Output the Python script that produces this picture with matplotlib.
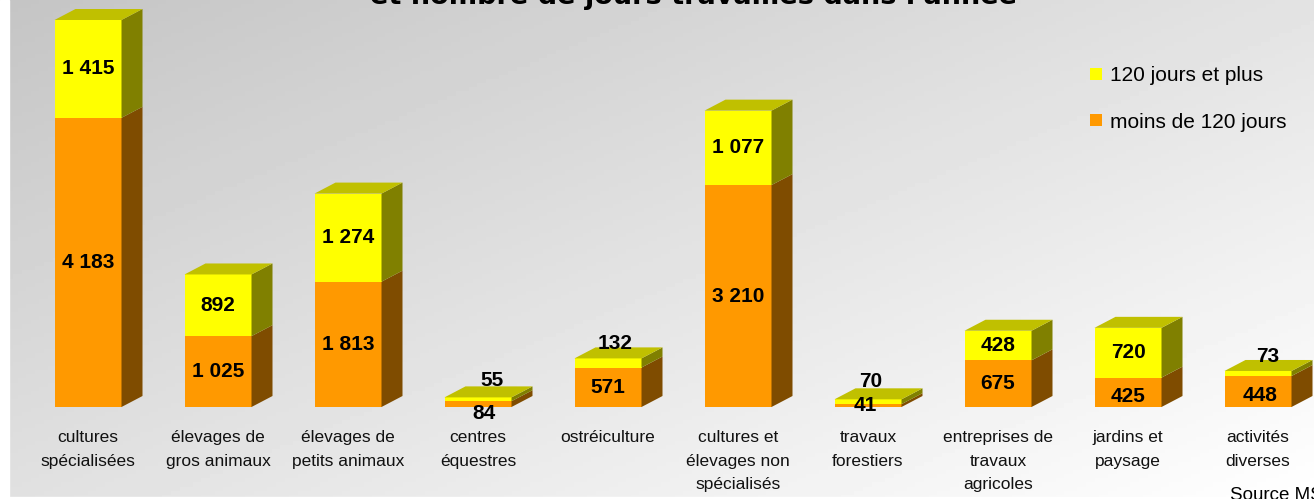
import numpy as np
import matplotlib
matplotlib.use("Agg")
import matplotlib.pyplot as plt
from matplotlib.patches import Polygon, Patch

plt.rcParams['font.family'] = ['Liberation Sans', 'DejaVu Sans']

# data
categories = ["cultures\nspécialisées", "élevages de\ngros animaux", "élevages de\npetits animaux",
              "centres\néquestres", "ostréiculture", "cultures et\nélevages non\nspécialisés",
              "travaux\nforestiers", "entreprises de\ntravaux\nagricoles", "jardins et\npaysage",
              "activités\ndiverses"]
moins_120 = [4183, 1025, 1813, 84, 571, 3210, 41, 675, 425, 448]
plus_120 = [1415, 892, 1274, 55, 132, 1077, 70, 428, 720, 73]
series_names = ["moins de 120 jours", "120 jours et plus"]

# colours: front, side, top
ORANGE = ("#FF9900", "#7F4C00", "#BF7300")
YELLOW = ("#FFFF00", "#808000", "#C0C000")

W_PX, H_PX = 1314, 499
fig = plt.figure(figsize=(W_PX / 100, H_PX / 100), dpi=100)

# gradient background
bg = fig.add_axes([0, 0, 1, 1])
gx, gy = np.meshgrid(np.linspace(0, 1, 300), np.linspace(0, 1, 120))
grad = 0.77 + 0.12 * gx + 0.11 * gy
bg.imshow(grad, cmap="gray", vmin=0, vmax=1, aspect="auto", extent=(0, 1, 0, 1), origin="upper")
bg.axvspan(0, 9 / W_PX, color="white")
bg.axhspan(0, 2 / H_PX, color="white")
bg.set_xlim(0, 1)
bg.set_ylim(0, 1)
bg.axis("off")

# chart axes in pixel-matched scale
ax = fig.add_axes([0, 0, 1, 1])
ax.patch.set_alpha(0)
step = 130.0
x0 = 88.0
scale = 387.0 / (moins_120[0] + plus_120[0])  # px per unit
base_px = 407.0
ax.set_xlim(-x0 / step, (W_PX - x0) / step)
ax.set_ylim(-(H_PX - base_px) / scale, base_px / scale)
ax.axis("off")

bw = 67 / step
dx = 21 / step
dy = 11 / scale
x = np.arange(len(categories))


def draw_segment(xc, bottom, h, cols, top=False):
    ax.bar(xc, h, bottom=bottom, width=bw, color=cols[0], linewidth=0, zorder=2)
    r = xc + bw / 2
    side = [(r, bottom), (r + dx, bottom + dy), (r + dx, bottom + h + dy), (r, bottom + h)]
    ax.add_patch(Polygon(side, closed=True, facecolor=cols[1], linewidth=0, zorder=2))
    if top:
        l = xc - bw / 2
        t = bottom + h
        lid = [(l, t), (l + dx, t + dy), (r + dx, t + dy), (r, t)]
        ax.add_patch(Polygon(lid, closed=True, facecolor=cols[2], linewidth=0, zorder=2))


for i in x:
    draw_segment(i, 0, moins_120[i], ORANGE)
    draw_segment(i, moins_120[i], plus_120[i], YELLOW, top=True)

# manual label shifts in pixels (series, index) -> (dx, dy), dy positive = up
shifts = {(0, 3): (6, -9), (1, 3): (14, 19), (1, 4): (7, 19), (1, 6): (3, 20),
          (0, 6): (-3, 0), (1, 9): (10, 17), (0, 9): (2, -4), (0, 8): (0, -4)}


def fmt(v):
    return f"{v:,}".replace(",", " ")


for i in x:
    for s, (bot, val) in enumerate([(0, moins_120[i]), (moins_120[i], plus_120[i])]):
        sx, sy = shifts.get((s, i), (0, 0))
        ax.annotate(fmt(val), (i, bot + val / 2), xytext=(sx, sy), textcoords="offset pixels",
                    ha="center", va="center", fontsize=15, fontweight="bold", zorder=5)

for i in x:
    ax.text(i, -(430 - base_px) / scale, categories[i], ha="center", va="top",
            fontsize=12.5, linespacing=1.72, color="#111111")

# title (first line falls outside the picture)
fig.text(0.528, 1 - 4 / H_PX, "et nombre de jours travaillés dans l'année", ha="center",
         va="baseline", fontsize=19.5, fontweight="bold", family="DejaVu Sans")
fig.text(1230 / W_PX, 1 - 487 / H_PX, "Source MSA", ha="left", va="top", fontsize=13.5)

handles = [Patch(facecolor=YELLOW[0], label=series_names[1]),
           Patch(facecolor=ORANGE[0], label=series_names[0])]
fig.legend(handles=handles, loc="upper left", bbox_to_anchor=(1080 / W_PX, 1 - 56 / H_PX),
           frameon=False, fontsize=15, handlelength=0.55, handleheight=0.55,
           handletextpad=0.4, labelspacing=1.3, borderpad=0)

fig.savefig("out.png", dpi=100)
